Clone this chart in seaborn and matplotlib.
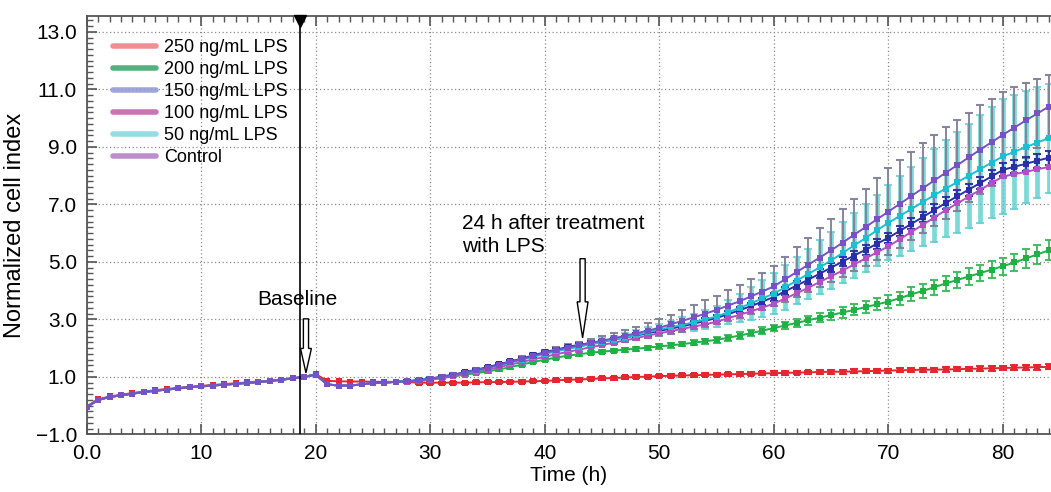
import matplotlib
matplotlib.use("Agg")
import matplotlib.pyplot as plt
import numpy as np
import pandas as pd
import seaborn as sns
from matplotlib.lines import Line2D
from matplotlib.ticker import MultipleLocator

# hourly sweeps, 0-84 h
hours = np.arange(0, 85)
post_hours = hours[28:]

# shared pre-treatment curve (0-27 h)
pre_common = [-0.05, 0.20, 0.30, 0.36, 0.42, 0.47, 0.52, 0.56, 0.60, 0.64, 0.67, 0.70, 0.73, 0.76,
              0.79, 0.82, 0.86, 0.90, 0.95, 1.00, 1.08, 0.74, 0.70, 0.70, 0.74, 0.78, 0.80, 0.83]
pre_red = [-0.03, 0.22, 0.32, 0.38, 0.44, 0.49, 0.54, 0.58, 0.62, 0.66, 0.69, 0.72, 0.75, 0.78,
           0.81, 0.84, 0.87, 0.91, 0.96, 1.00, 1.10, 0.86, 0.85, 0.84, 0.84, 0.83, 0.83, 0.83]

# post-treatment means (28-84 h)
lps250 = [0.82, 0.80, 0.80, 0.80, 0.80, 0.80, 0.81, 0.82, 0.82, 0.83, 0.84, 0.85, 0.86,
          0.88, 0.90, 0.91, 0.93, 0.95, 0.96, 0.98, 1.00, 1.01, 1.03,
          1.04, 1.05, 1.06, 1.07, 1.08, 1.09, 1.10, 1.11, 1.12, 1.13,
          1.14, 1.15, 1.16, 1.17, 1.18, 1.18, 1.19, 1.20, 1.21, 1.22,
          1.23, 1.24, 1.25, 1.25, 1.26, 1.27, 1.28, 1.29, 1.30, 1.31,
          1.32, 1.33, 1.34, 1.35]
lps200 = [0.85, 0.88, 0.92, 0.97, 1.02, 1.08, 1.13, 1.19, 1.26, 1.34, 1.43, 1.52, 1.60,
          1.67, 1.74, 1.79, 1.84, 1.88, 1.91, 1.95, 1.98, 2.02, 2.06,
          2.10, 2.14, 2.19, 2.24, 2.29, 2.36, 2.44, 2.52, 2.61, 2.70,
          2.79, 2.88, 2.97, 3.06, 3.15, 3.24, 3.33, 3.43, 3.52, 3.62,
          3.74, 3.87, 3.99, 4.12, 4.25, 4.37, 4.49, 4.61, 4.73, 4.85,
          4.98, 5.12, 5.26, 5.40]
lps150 = [0.85, 0.89, 0.94, 1.01, 1.08, 1.16, 1.25, 1.34, 1.44, 1.54, 1.64, 1.75, 1.86,
          1.95, 2.04, 2.12, 2.18, 2.24, 2.30, 2.37, 2.44, 2.52, 2.60,
          2.68, 2.76, 2.85, 2.95, 3.05, 3.18, 3.32, 3.46, 3.62, 3.78,
          3.98, 4.18, 4.38, 4.59, 4.80, 5.01, 5.22, 5.42, 5.63, 5.84,
          6.08, 6.32, 6.56, 6.80, 7.05, 7.28, 7.51, 7.74, 7.97, 8.20,
          8.31, 8.41, 8.52, 8.62]
lps100 = [0.83, 0.86, 0.90, 0.96, 1.02, 1.09, 1.17, 1.25, 1.34, 1.43, 1.52, 1.61, 1.70,
          1.79, 1.87, 1.95, 2.03, 2.11, 2.19, 2.27, 2.35, 2.44, 2.52,
          2.59, 2.67, 2.75, 2.83, 2.92, 3.04, 3.16, 3.28, 3.41, 3.55,
          3.73, 3.91, 4.10, 4.30, 4.50, 4.70, 4.91, 5.12, 5.33, 5.54,
          5.79, 6.04, 6.29, 6.54, 6.80, 7.03, 7.27, 7.50, 7.74, 7.97,
          8.05, 8.13, 8.22, 8.30]
lps50 = [0.85, 0.88, 0.93, 0.99, 1.06, 1.14, 1.22, 1.30, 1.40, 1.50, 1.60, 1.70, 1.80,
         1.89, 1.97, 2.05, 2.13, 2.21, 2.29, 2.37, 2.46, 2.55, 2.65,
         2.73, 2.81, 2.90, 3.00, 3.10, 3.25, 3.40, 3.56, 3.73, 3.90,
         4.12, 4.35, 4.58, 4.81, 5.05, 5.31, 5.57, 5.83, 6.10, 6.36,
         6.60, 6.84, 7.08, 7.32, 7.55, 7.77, 7.99, 8.22, 8.45, 8.67,
         8.83, 8.99, 9.15, 9.30]
control = [0.85, 0.88, 0.93, 1.00, 1.07, 1.15, 1.23, 1.32, 1.42, 1.52, 1.62, 1.73, 1.84,
           1.93, 2.02, 2.10, 2.18, 2.26, 2.34, 2.43, 2.52, 2.61, 2.71,
           2.83, 2.95, 3.07, 3.20, 3.33, 3.48, 3.63, 3.80, 3.97, 4.15,
           4.40, 4.65, 4.90, 5.15, 5.40, 5.67, 5.94, 6.21, 6.48, 6.75,
           7.02, 7.29, 7.56, 7.83, 8.10, 8.36, 8.63, 8.90, 9.16, 9.42,
           9.67, 9.92, 10.16, 10.40]

# post-treatment SD (28-84 h)
sd250 = [0.04, 0.04, 0.04, 0.04, 0.04, 0.04, 0.04, 0.04, 0.04, 0.04, 0.04, 0.04, 0.05,
         0.05, 0.05, 0.05, 0.05, 0.05, 0.05, 0.05, 0.05, 0.05, 0.05,
         0.05, 0.05, 0.05, 0.05, 0.06, 0.06, 0.06, 0.06, 0.06, 0.06,
         0.06, 0.06, 0.06, 0.06, 0.07, 0.07, 0.07, 0.07, 0.07, 0.07,
         0.07, 0.07, 0.07, 0.07, 0.08, 0.08, 0.08, 0.08, 0.08, 0.08,
         0.08, 0.09, 0.09, 0.09]
sd200 = [0.03, 0.03, 0.03, 0.03, 0.04, 0.04, 0.04, 0.04, 0.04, 0.05, 0.05, 0.05, 0.05,
         0.05, 0.05, 0.06, 0.06, 0.06, 0.06, 0.07, 0.07, 0.07, 0.08,
         0.08, 0.08, 0.09, 0.09, 0.10, 0.10, 0.11, 0.11, 0.12, 0.12,
         0.13, 0.14, 0.15, 0.16, 0.17, 0.18, 0.19, 0.20, 0.21, 0.22,
         0.23, 0.24, 0.25, 0.26, 0.27, 0.27, 0.28, 0.29, 0.29, 0.30,
         0.31, 0.32, 0.34, 0.35]
sd150 = [0.03, 0.03, 0.03, 0.03, 0.03, 0.03, 0.04, 0.04, 0.04, 0.04, 0.04, 0.05, 0.05,
         0.05, 0.05, 0.06, 0.06, 0.06, 0.07, 0.07, 0.07, 0.08, 0.08,
         0.08, 0.09, 0.09, 0.10, 0.10, 0.11, 0.11, 0.12, 0.12, 0.13,
         0.13, 0.14, 0.14, 0.15, 0.15, 0.16, 0.16, 0.17, 0.17, 0.18,
         0.18, 0.19, 0.19, 0.20, 0.20, 0.21, 0.21, 0.22, 0.22, 0.23,
         0.23, 0.24, 0.24, 0.25]
sd50 = [0.05, 0.05, 0.06, 0.06, 0.07, 0.07, 0.08, 0.08, 0.09, 0.09, 0.10, 0.10, 0.11,
        0.11, 0.12, 0.12, 0.13, 0.14, 0.15, 0.16, 0.17, 0.18, 0.20,
        0.23, 0.26, 0.29, 0.32, 0.35, 0.42, 0.50, 0.57, 0.65, 0.72,
        0.78, 0.83, 0.88, 0.94, 1.00, 1.06, 1.12, 1.18, 1.24, 1.30,
        1.38, 1.46, 1.54, 1.62, 1.70, 1.76, 1.82, 1.88, 1.94, 2.00,
        1.98, 1.95, 1.92, 1.90]
sd_control = [0.04, 0.04, 0.05, 0.05, 0.06, 0.06, 0.07, 0.07, 0.08, 0.08, 0.09, 0.09, 0.10,
              0.11, 0.12, 0.13, 0.14, 0.16, 0.18, 0.20, 0.23, 0.26, 0.30,
              0.34, 0.38, 0.42, 0.46, 0.50, 0.54, 0.58, 0.62, 0.66, 0.70,
              0.78, 0.86, 0.94, 1.02, 1.10, 1.18, 1.26, 1.34, 1.42, 1.50,
              1.52, 1.54, 1.56, 1.58, 1.60, 1.58, 1.56, 1.54, 1.52, 1.50,
              1.40, 1.30, 1.20, 1.10]

labels = ["250 ng/mL LPS", "200 ng/mL LPS", "150 ng/mL LPS", "100 ng/mL LPS", "50 ng/mL LPS", "Control"]
line_colors = ["#e3262f", "#1fb144", "#2b2ea8", "#b24fc4", "#1cbfd2", "#7652c6"]
legend_colors = ["#f07a80", "#35a468", "#8f98d4", "#c45aa6", "#86d6de", "#b27ac4"]
bar_colors = ["#e3262f", "#3dbb5e", "#2b2ea8", None, "#5ccfcf", "#80809a"]

series = {
    labels[0]: (pre_red + lps250, sd250),
    labels[1]: (pre_common + lps200, sd200),
    labels[2]: (pre_common + lps150, sd150),
    labels[3]: (pre_common + lps100, None),
    labels[4]: (pre_common + lps50, sd50),
    labels[5]: (pre_common + control, sd_control),
}

frame = pd.concat(
    [pd.DataFrame({"time": hours, "value": vals, "series": name}) for name, (vals, _) in series.items()],
    ignore_index=True,
)

sns.set_theme(style="white")
plt.rcParams["font.family"] = ["Liberation Sans", "DejaVu Sans"]
plt.rcParams["text.color"] = "black"
plt.rcParams["axes.labelcolor"] = "black"

fig = plt.figure(figsize=(10.51, 4.92), dpi=100)
ax = fig.add_axes([0.0824, 0.117, 0.9166, 0.8505])

# error bars first: cyan, gray, then the rest
for idx in [4, 5, 1, 2, 0]:
    vals, sd = series[labels[idx]]
    wide = idx == 4
    ax.errorbar(post_hours, vals[28:], yerr=sd, fmt="none", ecolor=bar_colors[idx],
                elinewidth=3.4 if wide else 1.4, capsize=2.8, capthick=1.5,
                alpha=0.8 if wide else 0.95, zorder=2)

sns.lineplot(data=frame, x="time", y="value", hue="series", hue_order=labels,
             palette=dict(zip(labels, line_colors)), marker="s", markersize=3.8,
             markeredgewidth=0, linewidth=1.4, legend=False, estimator=None,
             ax=ax, zorder=4)

ax.set_xlim(0, 84.1)
ax.set_ylim(-1.0, 13.55)
ax.set_xticks(range(0, 90, 10))
ax.set_xticklabels(["0.0"] + [str(v) for v in range(10, 90, 10)])
ax.set_yticks([-1, 1, 3, 5, 7, 9, 11, 13])
ax.set_yticklabels(["\u22121.0", "1.0", "3.0", "5.0", "7.0", "9.0", "11.0", "13.0"])
ax.xaxis.set_minor_locator(MultipleLocator(1))
ax.yaxis.set_minor_locator(MultipleLocator(0.2))
ax.tick_params(which="both", direction="in", top=True, bottom=True, left=True, right=False,
               color="#555555", labelcolor="black", labelsize=15)
ax.tick_params(which="major", length=7, width=1.2, pad=7)
ax.tick_params(which="minor", length=4, width=1.0)
ax.grid(True, which="major", linestyle=(0, (1, 2)), color="#8c8c8c", linewidth=0.9)
for side in ["left", "bottom", "top"]:
    ax.spines[side].set_color("#555555")
    ax.spines[side].set_linewidth(1.3)
ax.spines["right"].set_visible(False)

ax.set_xlabel("Time (h)", fontsize=15, labelpad=2)
ax.set_ylabel("Normalized cell index", fontsize=17, labelpad=7)

# baseline marker
ax.axvline(18.6, color="black", linewidth=1.2, zorder=5)
ax.plot([18.6], [13.38], marker="v", markersize=8, color="black", clip_on=False, zorder=6)

ax.text(14.9, 3.68, "Baseline", fontsize=15, ha="left", va="center", zorder=6)
ax.arrow(19.15, 3.02, 0, -1.88, width=0.45, head_width=0.95, head_length=0.85,
         length_includes_head=True, fc="white", ec="black", lw=1, zorder=6)

ax.text(32.8, 5.93, "24 h after treatment\nwith LPS", fontsize=15, ha="left", va="center",
        linespacing=1.25, zorder=6)
ax.arrow(43.3, 5.11, 0, -2.75, width=0.45, head_width=0.95, head_length=1.25,
         length_includes_head=True, fc="white", ec="black", lw=1, zorder=6)

handles = [Line2D([0], [0], color=c, linewidth=4, alpha=0.85) for c in legend_colors]
ax.legend(handles, labels, loc="upper left", bbox_to_anchor=(0.027, 0.945), frameon=False,
          fontsize=13, handlelength=2.4, handletextpad=0.45, labelspacing=0.28,
          borderaxespad=0, borderpad=0)

fig.savefig("out.png", dpi=100)
